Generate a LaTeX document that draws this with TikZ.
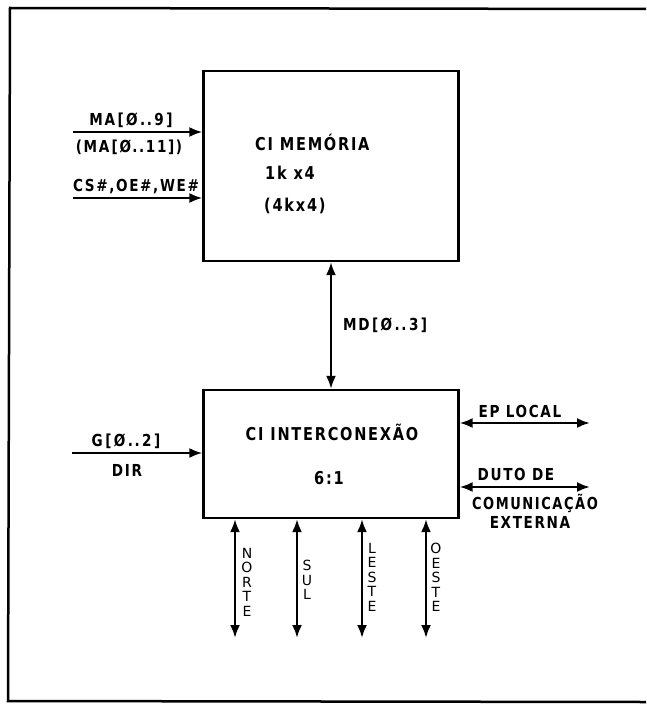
\documentclass[tikz,border=0pt]{standalone}
\usepackage{fontspec}
\setmainfont{DejaVu Sans}[LetterSpace=12,BoldFont={DejaVu Sans Bold}]
\usetikzlibrary{arrows.meta}
\newcommand\talltext[1]{\scalebox{0.97}[1.18]{#1}}
\newcommand\gp{\hspace{2.5pt}}
\begin{document}
\begin{tikzpicture}[x=1pt,y=-1pt,
  box/.style={draw,line width=2.3pt,minimum width=255pt,inner sep=0},
  tip/.tip={Latex[length=13pt,width=10pt]},
  wire/.style={line width=2.3pt,-tip},
  bus/.style={line width=2.3pt,tip-tip},
  lab/.style={font=\fontsize{14}{16}\selectfont\bfseries,inner sep=0},
  blab/.style={font=\fontsize{15}{17}\selectfont\bfseries,inner sep=0},
  vlab/.style={font=\fontsize{14}{14.5}\selectfont,align=center,inner sep=0,anchor=north},
  frame/.style={line width=2.5pt}]
\useasboundingbox (0,0) rectangle (646,706);
\draw[frame] (646,9) -- (10,8) -- (8,701) -- (646,702);
% boxes
\node[box,minimum height=190pt] (mem) at (331,166) {};
\node[box,minimum height=128pt] (ic) at (331,454) {};
% memory texts
\node[blab,anchor=west] (memt) at (255,142) {\talltext{CI MEMÓRIA}};
\node[blab,anchor=west] (memk) at (265,173) {\talltext{1k x4}};
\node[blab,anchor=west] (memk4) at (264,206) {\talltext{(4kx4)}};
% interconnect texts
\node[blab] (ict) at (332,432) {\talltext{CI INTERCONEXÃO}};
\node[blab] (icr) at (329,478) {\talltext{6:1}};
% left inputs
\coordinate (ma) at (73,132);
\coordinate (cs) at (73,198);
\coordinate (g) at (72,453);
\draw[wire] (ma) -- (ma -| mem.west);
\draw[wire] (cs) -- (cs -| mem.west);
\draw[wire] (g) -- (g -| ic.west);
\node[lab] (mal) at (131,120) {\talltext{MA\gp[\gp Ø\gp..\gp 9\gp]}};
\node[lab] (mal2) at (129,147) {\talltext{(MA\gp[Ø..11])}};
\node[lab] (csl) at (136,187) {\talltext{CS\#,OE\#,WE\#}};
\node[lab] (gl) at (126,441) {\talltext{G\gp[\gp Ø\gp..\gp 2\gp]}};
\node[lab] (dirl) at (127,470) {\talltext{DIR}};
% MD bus
\draw[bus] (mem.south) -- (ic.north);
\node[lab,anchor=west] (mdl) at (343,325) {\talltext{MD\gp[\gp Ø\gp..\gp 3\gp]}};
% right buses
\coordinate (ep) at (590,423);
\coordinate (duto) at (590,487);
\draw[bus] (ep -| ic.east) -- (ep);
\draw[bus] (duto -| ic.east) -- (duto);
\node[lab] (epl) at (520,411) {\talltext{EP LOCAL}};
\node[lab] (dutol) at (516,474) {\talltext{DUTO DE}};
\node[lab] (coml) at (535,503) {\scalebox{0.93}[1.18]{COMUNICAÇÃO}};
\node[lab] (extl) at (530,522) {\talltext{EXTERNA}};
% bottom buses
\coordinate (n1) at (235,638);
\coordinate (n2) at (297,638);
\coordinate (n3) at (362,638);
\coordinate (n4) at (426,638);
\draw[bus] (n1 |- ic.south) -- (n1);
\draw[bus] (n2 |- ic.south) -- (n2);
\draw[bus] (n3 |- ic.south) -- (n3);
\draw[bus] (n4 |- ic.south) -- (n4);
\node[vlab] (norte) at (247,548) {N\\O\\R\\T\\E};
\node[vlab] (sul) at (307,560) {S\\U\\L};
\node[vlab] (leste) at (372,543) {L\\E\\S\\T\\E};
\node[vlab] (oeste) at (436,543) {O\\E\\S\\T\\E};
\end{tikzpicture}
\end{document}
